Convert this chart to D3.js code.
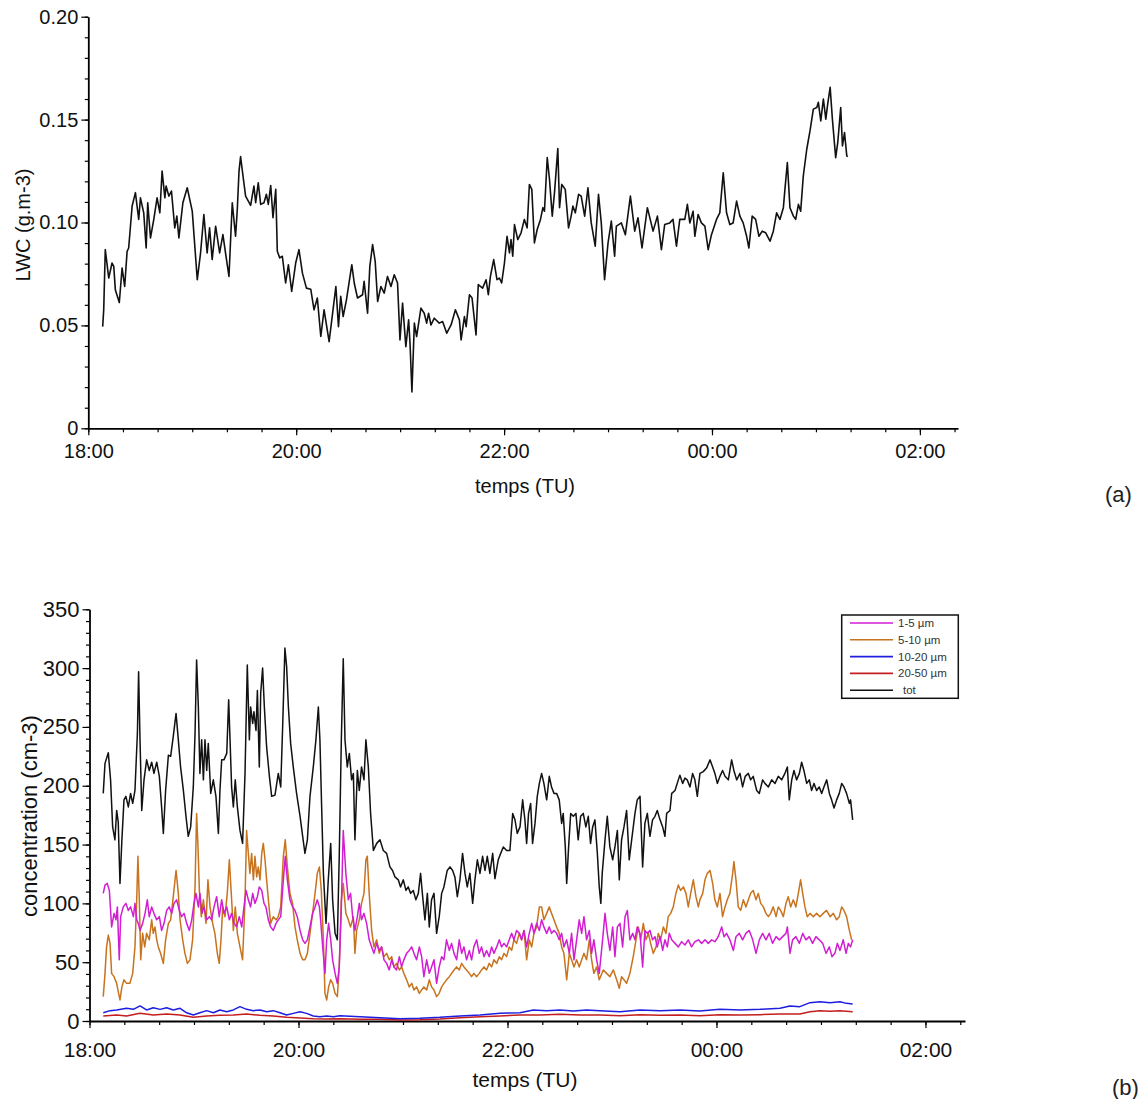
<!DOCTYPE html>
<html><head><meta charset="utf-8">
<script src="https://cdn.jsdelivr.net/npm/d3@7"></script>
<style>body{margin:0;background:#fff}text{font-family:"Liberation Sans",Arial,sans-serif}</style>
</head><body><svg id="c" width="1143" height="1099"></svg>
<script>
// time in minutes after 18:00 TU, value
const lwc = [[8.3,0.0494],[8.9,0.0576],[9.8,0.0868],[11.8,0.073],[13.7,0.0803],[14.7,0.0787],[15.6,0.0673],[17.9,0.0611],[19.5,0.0779],[21,0.0689],[22.4,0.086],[23.3,0.0876],[25.3,0.108],[27.2,0.1145],[29.1,0.1015],[30.1,0.112],[32,0.1047],[33.4,0.0876],[34.3,0.1096],[35.9,0.0925],[37.8,0.1015],[39.7,0.112],[41.3,0.1047],[42.6,0.125],[44.2,0.112],[44.9,0.1177],[46.5,0.1128],[48,0.1153],[49.9,0.0974],[51.1,0.1031],[52.3,0.0925],[54.6,0.1096],[57.1,0.1169],[60,0.1055],[62.9,0.0722],[64.8,0.0852],[66.7,0.1039],[68.6,0.0852],[70,0.0974],[71.5,0.082],[73.5,0.0982],[75.8,0.0852],[77.7,0.0941],[79.2,0.0852],[81.2,0.0738],[83.1,0.1096],[85,0.0933],[86,0.1063],[87,0.125],[87.9,0.132],[89.3,0.1226],[90.8,0.1128],[93.7,0.1083],[95.6,0.1177],[96.6,0.1096],[98.1,0.1193],[99.5,0.1088],[101.4,0.1096],[102.8,0.1137],[103.9,0.1088],[105.3,0.118],[106.6,0.1023],[108.2,0.1161],[109.1,0.086],[110.5,0.0828],[112,0.0836],[113.9,0.0706],[115.5,0.0795],[117.4,0.0665],[119.7,0.0803],[121.6,0.0868],[123.6,0.0754],[125.9,0.0681],[128.4,0.0676],[130.3,0.0576],[132.2,0.0633],[134.2,0.0446],[136.1,0.0576],[139,0.0421],[140.9,0.0551],[142.9,0.0689],[144.4,0.0494],[145.7,0.0641],[147.1,0.0543],[149,0.0624],[152.1,0.0795],[153.5,0.0706],[155.4,0.0633],[158.3,0.0649],[159.2,0.0714],[161.2,0.0559],[162.5,0.0787],[164.1,0.0893],[165.6,0.0811],[167,0.0616],[168.9,0.0689],[170.8,0.0657],[172.7,0.0738],[174.7,0.0689],[176.6,0.0746],[178.5,0.0706],[179.9,0.0429],[181.4,0.0608],[183.3,0.0397],[184.9,0.0527],[185.7,0.0413],[186.8,0.0177],[188.2,0.0511],[189.5,0.0446],[192,0.0584],[193.9,0.0559],[195.3,0.0511],[196.4,0.0559],[197.8,0.0502],[199.7,0.0535],[202.6,0.0511],[204.5,0.0519],[206.9,0.0462],[209.4,0.0502],[211.9,0.0576],[214.2,0.0527],[215.2,0.0429],[217.1,0.0543],[218.1,0.0494],[220,0.0649],[221.5,0.0633],[223.8,0.0454],[225.1,0.0698],[227.6,0.0681],[229.6,0.0722],[230.9,0.0649],[232.1,0.0738],[234,0.082],[235.9,0.0722],[237.3,0.073],[238.6,0.0706],[240.2,0.0803],[241.7,0.0933],[243.1,0.0852],[244,0.0917],[245,0.0836],[246,0.099],[247.9,0.0917],[249.8,0.095],[251.7,0.1015],[253.3,0.0974],[254.6,0.1185],[256,0.1161],[257.5,0.0901],[259.1,0.0966],[261,0.1015],[262.4,0.1072],[263.3,0.1055],[264.9,0.1315],[266.2,0.121],[267.8,0.1031],[269.1,0.1145],[271,0.1359],[272,0.1072],[273.3,0.1185],[275.3,0.1161],[277.2,0.0974],[278.7,0.1031],[279.7,0.108],[281.1,0.1047],[283,0.1137],[284.5,0.1128],[286.5,0.1031],[288.4,0.1169],[290.3,0.0998],[292.6,0.0885],[294.5,0.1137],[296.1,0.0998],[298,0.0722],[300,0.0901],[301.9,0.1007],[303.8,0.0836],[304.8,0.0982],[307.7,0.0998],[310,0.0941],[312.9,0.1128],[315.4,0.0958],[317.3,0.1023],[319.6,0.0876],[322.7,0.1072],[326,0.0958],[328.5,0.1031],[330.8,0.0868],[332.7,0.099],[335.6,0.0998],[337.5,0.1015],[339.5,0.0885],[341.4,0.1015],[344.3,0.1015],[345.8,0.1088],[347.2,0.0998],[349.1,0.1055],[350.1,0.0933],[352,0.1039],[353.9,0.0998],[355.9,0.0982],[357.8,0.0868],[359.7,0.0941],[362.6,0.1015],[364.5,0.1047],[366.5,0.1242],[368.4,0.1047],[370.3,0.099],[372.2,0.0998],[374.2,0.1104],[376.1,0.1031],[378,0.0998],[380,0.0933],[381.3,0.0876],[383.2,0.1031],[385.2,0.1015],[387.1,0.0933],[389,0.0958],[391,0.095],[393.5,0.0909],[395.4,0.0958],[397.3,0.1047],[399.2,0.1015],[401.2,0.1072],[402.1,0.1161],[403.5,0.1291],[405,0.1072],[407,0.1031],[408.3,0.1015],[409.9,0.1088],[411.2,0.1055],[412.7,0.1226],[414.7,0.1356],[416.6,0.1446],[418.5,0.1551],[420.5,0.1559],[421.4,0.1584],[422.8,0.1494],[424.3,0.16],[425.7,0.1502],[426.8,0.1576],[428.2,0.1657],[429.5,0.1502],[431.4,0.1315],[432.6,0.1389],[434.3,0.1559],[435.3,0.1372],[436.5,0.1437],[437.8,0.1324],[438.4,0.132]];

const conc1_5 = [[7.9,108.5],[8.9,115.6],[10.2,117],[11.4,111],[12.7,80],[14.1,91.5],[15.2,86],[16,97],[17.1,52],[17.9,88.7],[19.4,97],[20.9,100],[22.3,94],[23.6,97],[25.2,88.7],[26.1,100],[27.1,86],[28,83],[29,77],[30.5,83],[31.9,91.5],[33.2,103],[34.3,88.7],[35.7,97],[37,91.5],[38.6,86],[40.1,88.7],[41.4,77],[42.8,83],[44.3,94],[45.8,97],[47.2,91.5],[48.5,100],[50,103],[51.6,94],[52.9,88.7],[54.3,91.5],[55.8,83],[57.3,77],[58.7,86],[60,100],[61.1,108.5],[62.5,97],[63.4,108.5],[64.6,91.5],[65.7,97],[67.3,86],[68.8,88.7],[70.1,86],[71.5,97],[73,105.7],[74.5,88.7],[75.9,103],[77.2,91.5],[78.8,97],[80.3,86],[81.6,91.5],[83,83],[84.5,80],[86,88.7],[87.4,80],[88.7,97],[89.9,111],[91.2,103],[92.5,97],[93.7,108.5],[95,100],[96.4,105.7],[97.5,114],[98.9,111],[100.2,100],[101.3,97],[102.7,86],[104,80],[105.5,77],[107.1,83],[108.4,86],[109.8,88.7],[111.3,120],[112.4,140],[113.6,120],[115.1,103],[116.6,97],[118,94],[119.3,88.7],[120.9,77],[122.4,69],[123.7,66],[125.1,69],[126.6,80],[128.1,91.5],[129.5,97],[130.8,103],[132,97],[132.7,86],[133.9,63],[135.2,40.5],[136.2,69],[137.3,83],[138.5,69],[139.6,52],[141,40.5],[142.3,32],[143.4,46],[144.6,97],[145.7,162],[147.2,125.5],[148.6,103],[149.9,108.5],[151.1,88.7],[152.4,77],[153.8,88.7],[154.9,100],[156.2,86],[157.6,91.5],[159.1,83],[160.6,69],[162,63],[163.3,57.5],[164.9,66],[166.4,60],[167.7,63],[169.1,52],[170.6,49],[172.1,43.4],[173.5,52],[174.8,46],[176.3,43.4],[177.9,54.7],[179.2,46],[180.5,52],[182.1,57.5],[183.6,60],[185,63],[186.3,57.5],[187.8,52],[189.4,63],[190.7,54.7],[192,37.7],[193.6,52],[195.1,40.5],[196.4,46],[197.8,52],[199.3,32],[200.8,46],[202.2,54.7],[203.5,52],[205,69],[206.6,60],[207.9,66],[209.3,57.5],[210.8,52],[212.3,69],[213.7,57.5],[215,63],[216.5,52],[218.1,60],[219.4,52],[220.7,63],[222.3,69],[223.8,57.5],[225.1,63],[226.5,54.7],[228,60],[229.5,54.7],[230.9,63],[232.2,57.5],[233.8,63],[235.3,69],[236.6,63],[238,66],[239.5,63],[241,69],[242.4,74.5],[243.7,69],[245.2,77],[246.8,74.5],[248.1,69],[249.5,77],[251,63],[252.5,74.5],[253.9,83],[255.2,74.5],[256.7,83],[258.3,77],[259.6,86],[260.9,80],[262.5,74.5],[264,80],[265.3,74.5],[266.7,77],[268.2,74.5],[269.7,69],[271.1,74.5],[272.4,63],[274,69],[275.5,57.5],[276.8,74.5],[278.2,52],[279.7,69],[281.2,86],[282.6,74.5],[283.9,88.7],[285.4,69],[287,77],[288.3,57.5],[289.6,69],[291.2,52],[292.7,40.5],[294.6,69],[296,91.5],[297.3,74.5],[298.8,60],[300.4,80],[301.7,54.7],[303.1,80],[304.6,83],[306.1,63],[307.5,88.7],[308.8,94],[310.3,69],[311.9,74.5],[313.2,69],[314.5,80],[316.1,74.5],[317.6,46],[318.9,77],[320.3,74.5],[321.8,77],[323.3,69],[324.7,71.7],[326,63],[327.6,71.7],[329.1,60],[330.4,69],[331.8,63],[332.9,74.5],[334.3,69],[336.2,66],[338.1,63],[340,67.4],[341.9,64.6],[343.8,69],[345.7,63],[347.6,67.4],[349.6,69],[351.5,66],[353.4,69],[355.3,66],[357.2,69],[359.1,67.4],[361,71.7],[363,80],[364.3,71.7],[365.8,74.5],[367.7,69],[369.7,60],[371.2,71.7],[373.1,74.5],[375,69],[376.9,74.5],[378.8,77],[380.8,69],[382.7,57.5],[384.6,69],[386.5,74.5],[388.4,69],[390.3,74.5],[392.2,66],[394.2,71.7],[396.1,69],[398,71.7],[399.9,74.5],[400.7,80],[402.2,57.5],[403.7,69],[405.6,71.7],[407.6,66],[409.5,74.5],[411.4,69],[413.3,71.7],[415.2,66],[417.1,71.7],[419,69],[421,66],[422.9,57.5],[424.8,63],[426.3,54.7],[428,57.5],[429.4,66],[430.9,60],[432.8,69],[434.4,57.5],[435.7,66],[437,63],[438.2,69]];

const conc5_10 = [[7.9,20.7],[8.9,40.5],[9.8,63],[10.8,73],[11.8,66],[12.7,40.5],[14.1,37.7],[15.6,32],[16.7,23.5],[17.5,17.9],[18.6,29],[19.8,35],[21.3,32],[23.2,32],[24.8,40.5],[26.1,63],[27.1,103],[27.8,140],[28.6,103],[29.4,52],[30.5,74.5],[31.7,63],[32.8,74.5],[34.3,69],[35.7,86],[36.6,74.5],[37.6,80],[38.6,69],[39.5,63],[40.8,57.5],[42.4,49],[43.7,69],[45.3,83],[46.6,86],[48.1,105.7],[49.7,128],[51,108.5],[52,86],[53.5,69],[54.8,57.5],[56.2,49],[57.7,52],[59.2,69],[60.6,114],[61.5,176.5],[62.3,148],[63.1,111],[64.2,88.7],[65.4,103],[66.9,83],[68,120],[69.2,97],[70.7,83],[72,74.5],[73.4,57.5],[74.5,49],[75.5,69],[76.5,97],[77.8,88.7],[79.1,108.5],[80.3,137],[81.4,108.5],[82.6,77],[83.7,97],[84.9,74.5],[86.4,63],[87.9,52],[89.3,103],[90.2,162],[91.2,142.5],[92.1,125.5],[93.1,142.5],[94.1,120],[95,140],[96,122.5],[96.9,131],[97.9,120],[98.9,142.5],[99.8,151],[100.8,137],[101.7,120],[102.9,100],[104,83],[105.5,88.7],[107.1,86],[108.4,88.7],[109.8,97],[111.3,140],[112.4,154],[113.6,131],[115.1,108.5],[116.6,100],[118,80],[119.3,69],[120.9,57.5],[122.4,52],[123.7,52],[125.1,57.5],[126.6,74.5],[128.1,91.5],[129.5,108.5],[130.8,125.5],[132,131],[133.1,111],[134.3,69],[135.2,23.5],[136.2,17.9],[137.3,29],[138.5,35],[139.6,32],[141,23.5],[142.3,20.7],[143.4,46],[144.6,103],[145.7,117],[147.2,91.5],[148.6,86],[149.9,80],[151.5,88.7],[152.4,57.5],[153.4,77],[154.9,86],[156.2,100],[157.6,108.5],[158.7,137],[159.5,140],[160.6,108.5],[162,77],[163.3,63],[164.9,69],[166.4,57.5],[167.7,63],[169.1,54.7],[170.6,57.5],[172.1,52],[173.5,54.7],[174.8,46],[176.3,49],[177.9,43.4],[179.2,46],[180.5,40.5],[182.1,35],[183.6,29],[185,32],[186.3,26.4],[187.8,29],[189.4,23.5],[190.7,26.4],[192,29],[193.6,26.4],[195.1,35],[196.4,29],[197.8,26.4],[199.3,20.7],[200.8,23.5],[202.2,29],[203.5,32],[205,35],[206.6,37.7],[207.9,40.5],[209.3,43.4],[210.8,46],[212.3,43.4],[213.7,49],[215,46],[216.5,43.4],[218.1,40.5],[219.4,37.7],[220.7,40.5],[222.3,37.7],[223.8,40.5],[225.1,43.4],[226.5,46],[228,43.4],[229.5,49],[230.9,46],[232.2,52],[233.8,49],[235.3,54.7],[236.6,52],[238,57.5],[239.5,54.7],[241,63],[242.4,60],[243.7,69],[245.2,66],[246.8,74.5],[248.1,69],[249.5,77],[251,52],[252.5,69],[253.9,63],[255.2,74.5],[256.7,80],[258.3,97],[259.6,97],[260.9,86],[262.5,91.5],[264,97],[265.3,91.5],[266.7,86],[268.2,80],[269.7,74.5],[271.1,63],[272.4,57.5],[274,35],[275.5,57.5],[276.8,52],[278.2,46],[279.7,52],[281.2,46],[282.6,52],[283.9,57.5],[285.4,52],[287,69],[288.3,52],[289.6,40.5],[291.2,46],[292.7,35],[295,43.4],[296.9,40.5],[298.8,37.7],[300.8,43.4],[302.7,35],[304.2,27.8],[305.5,37.7],[306.9,35],[308.4,32],[310.3,40.5],[312.2,54.7],[313.8,69],[315.1,80],[316.5,69],[318,83],[319.5,69],[320.9,74.5],[322.2,66],[323.7,57.5],[325.3,63],[326.6,74.5],[327.9,69],[329.5,80],[331,74.5],[332.3,88.7],[333.7,91.5],[335.2,97],[336.7,108.5],[338.1,115.6],[339.4,111],[341,114],[342.5,108.5],[343.8,97],[345.2,108.5],[346.7,120],[348.2,105.7],[349.6,97],[350.5,103],[352.1,108.5],[353.4,120],[354.7,125.5],[356.3,128],[357.8,117],[359.1,103],[360.5,97],[362,108.5],[363.5,88.7],[364.9,97],[366.2,103],[367.7,108.5],[369.3,125.5],[370,135.5],[371.2,120],[372.5,97],[373.9,94],[375.4,103],[376.9,97],[378.3,103],[379.6,108.5],[381.1,111],[382.7,103],[384,108.5],[385.4,100],[386.9,97],[388.4,91.5],[389.8,88.7],[391.1,91.5],[392.6,97],[394.2,88.7],[395.5,97],[396.8,94],[398.4,88.7],[399.9,100],[401.2,105.7],[402.6,97],[404.1,103],[405.6,97],[407,108.5],[408.3,120],[409.5,108.5],[410.8,97],[412.1,88.7],[413.7,91.5],[415.6,88.7],[417.5,91.5],[419.4,88.7],[421.3,91.5],[423.2,94],[425.2,88.7],[427.1,91.5],[429,86],[430.5,88.7],[431.9,97],[433.2,94],[434.7,88.7],[436.3,77],[437.6,69]];

const conc10_20 = [[7.9,7],[11.8,8.8],[15.6,9.4],[21.3,10.8],[25.2,9.9],[29,12.8],[32.8,9.4],[36.6,11.3],[40.5,9.9],[44.3,11.3],[48.1,9.4],[52,10.8],[55.8,7],[59.6,5.1],[63.4,7],[67.3,8.8],[71.1,7],[74.9,9.4],[78.8,7.9],[82.6,9.4],[86.4,12.2],[90.2,9.9],[94.1,8.8],[97.9,9.4],[101.7,7.9],[105.5,8.8],[109.4,7],[113.2,5.1],[117,6.5],[120.9,7.9],[124.7,6.5],[128.5,4.3],[132.3,3.7],[136.2,4.3],[140,3.7],[143.8,4.5],[155.3,3.7],[166.8,2.8],[178.3,2],[189.7,2.3],[201.2,3.1],[212.7,4.3],[224.2,5.1],[235.7,6.5],[247.2,7],[254.8,9.4],[262.5,8.8],[270.1,9.4],[277.8,8.5],[285.4,9.4],[293.1,8.8],[304.6,7.9],[316.1,9.4],[327.6,8.8],[339,9.4],[350.5,8.5],[362,9.9],[373.5,9.4],[385,9.9],[396.5,10.8],[402.2,12.8],[407.9,12.2],[413.7,15.6],[419.4,16.4],[425.2,15.6],[430.9,16.4],[434.7,15],[438.2,14.5]];

const conc20_50 = [[7.9,4.3],[15.6,5.1],[21.3,4.3],[29,6.5],[36.6,5.1],[44.3,6],[52,5.1],[59.6,3.1],[67.3,4.3],[74.9,4.8],[82.6,5.1],[90.2,6],[97.9,4.8],[105.5,4.3],[113.2,3.1],[120.9,2.6],[128.5,2],[136.2,1.7],[143.8,2],[155.3,1.4],[166.8,1.4],[178.3,0.9],[189.7,1.1],[201.2,1.7],[212.7,2.8],[224.2,3.7],[235.7,4.3],[247.2,5.1],[258.6,5.1],[270.1,5.7],[281.6,5.1],[293.1,5.1],[304.6,4.5],[316.1,5.4],[327.6,4.8],[339,5.1],[350.5,4.5],[362,5.4],[373.5,5.1],[385,5.4],[396.5,6],[407.9,6],[413.7,7.9],[419.4,8.8],[425.2,8.2],[430.9,8.8],[438.2,7.9]];

const concTot = [[7.9,193.5],[8.9,219],[10.8,228],[12.1,205],[13.3,165],[14.6,154],[15.6,179],[16.5,169],[17.5,117],[18.6,154],[19.8,188],[20.9,191],[22.3,182],[23.6,193.5],[24.8,185],[26.1,196],[27.5,244.5],[28.2,297],[29,239],[30,179],[31.3,205],[32.8,222],[34.3,213],[35.7,220],[37,210.5],[38.6,220],[40.1,208],[41.4,182],[42.4,159.5],[43.7,196],[45.3,226],[46.6,225],[48.1,242],[49.7,261.5],[51,239],[52.3,216],[53.9,196],[55.4,174],[56.7,157],[58.1,165],[59.6,199],[60.6,244.5],[61.5,307],[62.5,267],[63.4,210.5],[64.4,239],[65.4,205],[66.3,239],[67.3,213],[68.2,236],[69.6,193.5],[71.1,205],[72.6,191],[74,159.5],[74.9,196],[75.9,222],[77.2,222],[78.8,227.5],[79.9,273],[80.7,239],[81.6,199],[82.6,182],[83.7,205],[84.9,182],[86.4,162],[87.9,151],[89.3,210.5],[90.6,302.6],[91.8,239],[92.5,267],[93.7,253],[94.4,263],[95.6,247],[96.4,281],[97.5,216],[98.3,278.5],[99.4,300],[100.4,267],[101.7,233],[103.3,208],[104.6,191],[106.5,192],[108.4,210.5],[109.8,199],[110.9,250],[112.2,317],[113.2,301],[114.2,267],[115.5,236],[117,216],[118.9,193.5],[120.9,174],[122.4,157],[123.7,142.5],[125.1,154],[126.6,191],[128.5,216],[130,239],[131.4,267],[132.3,239],[133.3,182],[134.3,125.5],[135.8,83],[137.1,120],[138.5,151],[139.6,103],[141,74.5],[142.3,69],[143.4,140],[144.6,239],[145.7,308],[146.7,239],[148,216],[149.2,227.5],[150.5,205],[151.5,210.5],[152.4,154],[153.8,213],[154.9,196],[156.2,216],[157.6,205],[158.7,239],[160.1,216],[161.4,176.5],[163,145],[164.9,151],[166.8,154],[168.7,145],[170.6,142.5],[172.5,131],[174,128],[175.4,122.5],[177.3,120],[178.6,114],[180.2,120],[181.7,111],[183,114],[184.4,108.5],[185.9,111],[187.4,103],[188.8,108.5],[190.1,125.5],[191.3,105.7],[192.6,86],[194,108.5],[195.1,80],[196.4,103],[197.8,108.5],[199.3,74.5],[200.8,88.7],[202.2,108.5],[203.5,114],[205.4,128],[207,131],[208.5,128],[209.8,122.5],[211.2,105.7],[212.7,120],[214.2,142.5],[215.6,125.5],[216.9,114],[218.4,125.5],[220,100],[221.3,120],[222.7,137],[224.2,125.5],[225.7,140],[227.1,128],[228.4,140],[229.9,125.5],[231.5,142.5],[232.8,121],[234.7,137],[236.1,142.5],[237.6,148],[239.5,145],[241.4,145],[243,176.5],[244.3,171],[245.6,159.5],[247.2,165],[248.7,188],[250,171],[251,151],[252.1,176.5],[253.3,185],[254.4,151],[255.8,168],[257.1,191],[258.3,202],[259.6,210.5],[260.9,202],[262.5,188],[264,208],[265.3,199],[266.7,193.5],[268.2,193.5],[269.7,188],[271.1,168],[272,176.5],[273.2,148],[274,117],[275.1,148],[276.3,176.5],[277.8,174],[279.3,176.5],[280.6,154],[282,174],[283.5,176.5],[285,165],[286.4,174],[287.7,151],[288.9,165],[290.2,171],[291.6,142.5],[292.7,114],[293.6,100],[294.4,125.5],[296,154],[297.3,174],[298.8,148],[300.4,137],[301.7,148],[303.1,162],[304.2,120],[305.5,154],[306.9,165],[308.4,179],[309.9,137],[311.3,154],[313.2,176.5],[314.5,188],[316.1,191],[317.6,131],[318.9,168],[320.3,176.5],[321.8,157],[323.3,171],[324.7,174],[326,179],[327.6,171],[329.1,165],[330.4,157],[331.4,176.5],[333.3,179],[334.3,193.5],[336.2,196],[338.1,205],[339,209],[340.6,202],[341.9,206.5],[343.2,205],[344.8,199],[346.3,210.5],[347.6,205],[349,191],[350.5,210.5],[352.4,212],[354.3,215],[356.3,222],[357.8,216],[359.1,210.5],[360.5,202],[362,208],[363.5,213],[364.9,208],[366.8,205],[368.7,222],[370,213],[371.6,205],[373.5,210.5],[375,199],[376.5,208],[378.3,210.5],[379.6,205],[381.1,208],[383.1,196],[384.6,193.5],[386.5,205],[387.8,202],[389.8,199],[391.7,205],[393.6,202],[395.5,208],[397.4,205],[399.3,210.5],[400.7,216],[401.8,188],[403.2,205],[404.5,213],[406,205],[407.6,210.5],[408.9,220],[410.2,213],[411.8,202],[413.3,205],[414.6,196],[416,202],[417.5,196],[419,199],[420.4,193.5],[421.7,199],[423.3,205],[424.8,193.5],[426.1,188],[427.5,181],[429,188],[430.5,193.5],[431.9,202],[433.2,199],[434.7,193.5],[436.3,185],[437,188],[438.2,171]];

const seriesLabels = ["1-5 µm","5-10 µm","10-20 µm","20-50 µm","tot"];
const seriesData = [conc1_5, conc5_10, conc10_20, conc20_50, concTot];
const seriesColors = ["#d21ed2","#c8731e","#1e1ee0","#c41e1e","#111111"];
const lwcTicks = [0,0.05,0.10,0.15,0.20];
const concTicks = [0,50,100,150,200,250,300,350];
const hourTicks = [0,120,240,360,480]; // minutes after 18:00
const hourLabels = ["18:00","20:00","22:00","00:00","02:00"];

const svg = d3.select("#c");
const FONT = '"Liberation Sans",Arial,sans-serif';

function panel(o){
  const x = d3.scaleLinear().domain([0,o.tmax]).range([o.x0,o.x1]);
  const y = d3.scaleLinear().domain([0,o.ymax]).range([o.y0,o.y1]);
  const g = svg.append("g");
  g.append("g").attr("transform",`translate(0,${o.y0})`)
    .call(d3.axisBottom(x).tickValues(d3.range(0,o.tmax,20)).tickSize(4).tickFormat(""))
    .call(a=>a.select(".domain").remove());
  g.append("g").attr("transform",`translate(${o.x0},0)`)
    .call(d3.axisLeft(y).tickValues(d3.range(0,o.ymax+o.ystep/2,o.ystep)).tickSize(3.5).tickFormat(""))
    .call(a=>a.select(".domain").remove());
  const ax = g.append("g").attr("transform",`translate(0,${o.y0})`)
    .call(d3.axisBottom(x).tickValues(hourTicks).tickSize(7).tickSizeOuter(0).tickPadding(o.xpad)
      .tickFormat((d,i)=>hourLabels[i]));
  ax.selectAll("text").style("font-size",o.fs+"px").attr("fill","#111").style("font-family",FONT);
  const ay = g.append("g").attr("transform",`translate(${o.x0},0)`)
    .call(d3.axisLeft(y).tickValues(o.yticks).tickSize(7).tickSizeOuter(0).tickPadding(3)
      .tickFormat(o.yfmt));
  ay.selectAll("text").style("font-size",o.yfs+"px").attr("fill","#111").style("font-family",FONT);
  g.selectAll(".domain").attr("stroke","#000").attr("stroke-width",1.8);
  g.selectAll(".tick line").attr("stroke","#000").attr("stroke-width",1.2);
  g.append("text").attr("x",o.xt).attr("y",o.yt).attr("text-anchor","middle")
    .style("font-size",o.fs+"px").style("font-family",FONT).attr("fill","#111").text("temps (TU)");
  g.append("text").attr("transform",`translate(${o.yl[0]},${o.yl[1]}) rotate(-90)`)
    .attr("text-anchor","middle").style("font-size",o.yfs+"px").style("font-family",FONT)
    .attr("fill","#111").text(o.ylabel);
  return {x,y,g};
}

// panel (a)
const A = panel({tmax:502,x0:88.3,x1:958,y0:428.3,y1:16.7,ymax:0.2,ystep:0.01,xpad:9,
  yticks:lwcTicks,yfmt:d=>d===0?"0":d.toFixed(2),fs:20,yfs:20,xt:525,yt:493,yl:[30,225],ylabel:"LWC (g.m-3)"});
A.g.append("path").datum(lwc).attr("fill","none").attr("stroke","#111").attr("stroke-width",1.6)
  .attr("stroke-linejoin","round")
  .attr("d",d3.line().x(d=>A.x(d[0])).y(d=>A.y(d[1])));

// panel (b)
const B = panel({tmax:502.7,x0:89.5,x1:965,y0:1021,y1:609.3,ymax:350,ystep:10,xpad:14,
  yticks:concTicks,yfmt:d=>String(d),fs:21,yfs:22,xt:525,yt:1087,yl:[37,816],ylabel:"concentration (cm-3)"});
[3,2,1,0,4].forEach(i=>{
  B.g.append("path").datum(seriesData[i]).attr("fill","none").attr("stroke",seriesColors[i])
    .attr("stroke-width",1.5).attr("stroke-linejoin","round")
    .attr("d",d3.line().x(d=>B.x(d[0])).y(d=>B.y(d[1])));
});

// legend
const lg = svg.append("g");
lg.append("rect").attr("x",841.7).attr("y",615).attr("width",116.6).attr("height",83.3)
  .attr("fill","#fff").attr("stroke","#111").attr("stroke-width",1.5);
seriesLabels.forEach((s,i)=>{
  const yy = 623 + i*16.8;
  lg.append("line").attr("x1",850).attr("x2",893).attr("y1",yy).attr("y2",yy)
    .attr("stroke",seriesColors[i]).attr("stroke-width",1.6);
  lg.append("text").attr("x",i===4?903:898).attr("y",yy+4).style("font-size","11.5px")
    .style("font-family",FONT).attr("fill","#333").text(s);
});

// panel letters
svg.append("text").attr("x",1105).attr("y",502).style("font-size","22px").style("font-family",FONT)
  .attr("fill","#222").text("(a)");
svg.append("text").attr("x",1112).attr("y",1095).style("font-size","22px").style("font-family",FONT)
  .attr("fill","#222").text("(b)");
</script></body></html>
